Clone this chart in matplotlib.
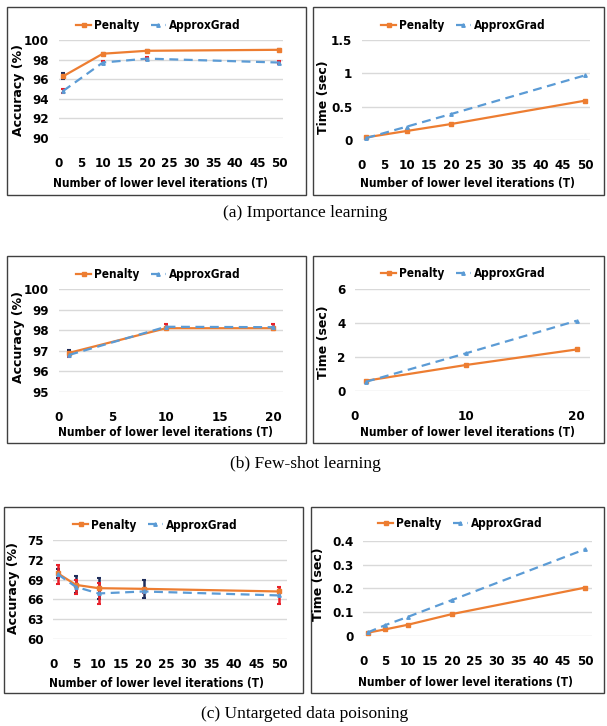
import matplotlib
matplotlib.use("Agg")
import matplotlib.pyplot as plt
from matplotlib import font_manager
from matplotlib.patches import Rectangle

W, H = 607, 726

# ---- data ----
t_imp = [1, 10, 20, 50]
acc_imp_pen = [96.3, 98.6, 98.9, 99.0]
acc_imp_apx = [94.8, 97.7, 98.1, 97.7]
err_imp_pen = [0.3, 0.05, 0.05, 0.05]
err_imp_apx = [0.2, 0.2, 0.15, 0.2]
time_imp_pen = [0.04, 0.135, 0.24, 0.59]
time_imp_apx = [0.03, 0.2, 0.39, 0.97]

t_few = [1, 10, 20]
acc_few_pen = [96.9, 98.1, 98.1]
acc_few_apx = [96.8, 98.17, 98.15]
err_few_pen = [0.15, 0.05, 0.05]
err_few_apx = [0.1, 0.12, 0.15]
time_few_pen = [0.59, 1.52, 2.44]
time_few_apx = [0.53, 2.21, 4.14]

t_poi = [1, 5, 10, 20, 50]
acc_poi_pen = [69.95, 68.2, 67.7, 67.6, 67.2]
acc_poi_apx = [69.8, 67.9, 66.9, 67.2, 66.6]
err_poi_pen = [0.7, 1.3, 1.6, 1.4, 0.3]
err_poi_apx = [1.4, 1.1, 1.6, 0.3, 1.3]
time_poi_pen = [0.014, 0.028, 0.047, 0.092, 0.203]
time_poi_apx = [0.015, 0.046, 0.08, 0.151, 0.364]

captions = ["(a) Importance learning", "(b) Few-shot learning", "(c) Untargeted data poisoning"]
XLABEL = "Number of lower level iterations (T)"

ORANGE = "#ED7D31"
BLUE = "#5B9BD5"
NAVY = "#1F2D5A"
RED = "#E8202A"
GRID = "#D9D9D9"

# a condensed bold sans stands in for Calibri bold; fall back to Roboto bold
cond = [f for f in font_manager.fontManager.ttflist
        if "Narrow" in f.name or "Condensed" in f.name
        or f.stretch in ("condensed", "semi-condensed")]
cond_bold = [f for f in cond if f.weight in ("bold", 700)]
if cond_bold:
    NARROW = font_manager.FontProperties(fname=cond_bold[0].fname)
    TICK, XLAB, LEG = 9.5, 8.5, 8.5
else:
    NARROW = font_manager.FontProperties(family="Roboto", weight="bold")
    TICK, XLAB, LEG = 9, 7.5, 8

fig = plt.figure(figsize=(W / 100, H / 100), dpi=100)


def fx(px):
    return px / W


def fy(py):
    return 1 - py / H


def nprop(size):
    p = NARROW.copy()
    p.set_size(size)
    return p


def style_labels(ax):
    for lab in ax.get_xticklabels() + ax.get_yticklabels():
        lab.set_fontproperties(nprop(TICK))


def panel(box, rect, xlim, xticks, ylim, yticks, ylabel, ylab_pos, xlab_pos, leg_pos):
    # frame around the excel chart
    x0, y0, x1, y1 = box
    fig.patches.append(Rectangle((fx(x0), fy(y1)), fx(x1 - x0), (y1 - y0) / H,
                                 transform=fig.transFigure, fill=False,
                                 edgecolor="#404040", linewidth=1.0))
    l, r, t, b = rect
    ax = fig.add_axes([fx(l), fy(b), fx(r - l), (b - t) / H])
    ax.set_xlim(*xlim)
    ax.set_ylim(*ylim)
    ax.set_xticks(xticks)
    ax.set_yticks(yticks)
    ax.grid(axis="y", color=GRID, linewidth=1.0)
    ax.set_axisbelow(True)
    for s in ax.spines.values():
        s.set_visible(False)
    ax.tick_params(length=0)
    ax.tick_params(axis="x", pad=14)
    ax.tick_params(axis="y", pad=7)
    style_labels(ax)
    fig.text(fx(ylab_pos[0]), fy(ylab_pos[1]), ylabel, rotation=90, ha="center",
             va="center", fontsize=9, fontweight="bold", family="DejaVu Sans")
    fig.text(fx(xlab_pos[0]), fy(xlab_pos[1]), XLABEL,
             ha="center", va="center", fontproperties=nprop(XLAB))
    return ax, leg_pos


def draw(ax, leg_pos, t, pen, apx, epen=None, eapx=None):
    if epen is not None:
        ax.errorbar(t, pen, yerr=epen, fmt="none", ecolor=NAVY, elinewidth=1.8,
                    capsize=1.5, capthick=1.5, zorder=3)
    if eapx is not None:
        ax.errorbar(t, apx, yerr=eapx, fmt="none", ecolor=RED, elinewidth=1.8,
                    capsize=1.5, capthick=1.5, zorder=3)
    ax.plot(t, pen, color=ORANGE, linewidth=1.6, marker="s", markersize=3.5,
            label="Penalty", zorder=4)
    ax.plot(t, apx, color=BLUE, linewidth=1.6, linestyle=(0, (4, 2.5)), marker="^",
            markersize=2.5, label="ApproxGrad", zorder=4)
    ax.legend(loc="center", bbox_to_anchor=(fx(leg_pos[0]), fy(leg_pos[1])),
              bbox_transform=fig.transFigure, ncol=2, frameon=False,
              handlelength=1.3, handletextpad=0.2, columnspacing=1.0,
              prop=nprop(LEG))


# (a) importance learning
ax, lp = panel((7, 7, 306, 195), (58.7, 283.3, 40, 138), (0, 50.9), range(0, 51, 5),
               (90, 100), range(90, 101, 2), "Accuracy (%)", (19, 89.5), (160, 183), (158, 26))
draw(ax, lp, t_imp, acc_imp_pen, acc_imp_apx, err_imp_pen, err_imp_apx)
ax, lp = panel((313, 7, 604, 195), (362, 590, 40, 140), (0, 51.1), range(0, 51, 5),
               (0, 1.5), [0, 0.5, 1, 1.5], "Time (sec)", (323, 97), (467.5, 183), (463, 26))
ax.set_yticklabels(["0", "0.5", "1", "1.5"])
style_labels(ax)
draw(ax, lp, t_imp, time_imp_pen, time_imp_apx)

# (b) few-shot learning
ax, lp = panel((7, 256, 306, 443), (58.7, 283.3, 289.3, 391.7), (0, 20.93), [0, 5, 10, 15, 20],
               (95, 100), range(95, 101), "Accuracy (%)", (19, 337.5), (165.8, 432.7), (158, 274.3))
draw(ax, lp, t_few, acc_few_pen, acc_few_apx, err_few_pen, err_few_apx)
ax, lp = panel((313, 256, 604, 443), (355, 590, 289.3, 390.7), (0, 21.2), [0, 10, 20],
               (0, 6), [0, 2, 4, 6], "Time (sec)", (323, 342), (467.5, 432.7), (463, 274))
draw(ax, lp, t_few, time_few_pen, time_few_apx)

# (c) untargeted data poisoning
ax, lp = panel((4, 507, 303, 693), (53.3, 286.7, 540, 639), (0, 51.6), range(0, 51, 5),
               (60, 75), range(60, 76, 3), "Accuracy (%)", (13.3, 588), (156.7, 683.3), (155, 525))
draw(ax, lp, t_poi, acc_poi_pen, acc_poi_apx, err_poi_pen, err_poi_apx)
ax, lp = panel((311, 507, 604, 693), (363.3, 591.7, 540.7, 636), (0, 51.5), range(0, 51, 5),
               (0, 0.4), [0, 0.1, 0.2, 0.3, 0.4], "Time (sec)", (318.3, 584.5), (465, 682.7), (460, 524))
ax.set_yticklabels(["0", "0.1", "0.2", "0.3", "0.4"])
style_labels(ax)
draw(ax, lp, t_poi, time_poi_pen, time_poi_apx)

for cap, y in zip(captions, [213, 464, 714]):
    fig.text(fx(305), fy(y), cap, ha="center", va="center", fontsize=12.5,
             family="Liberation Serif")

fig.savefig("out.png", dpi=100)
